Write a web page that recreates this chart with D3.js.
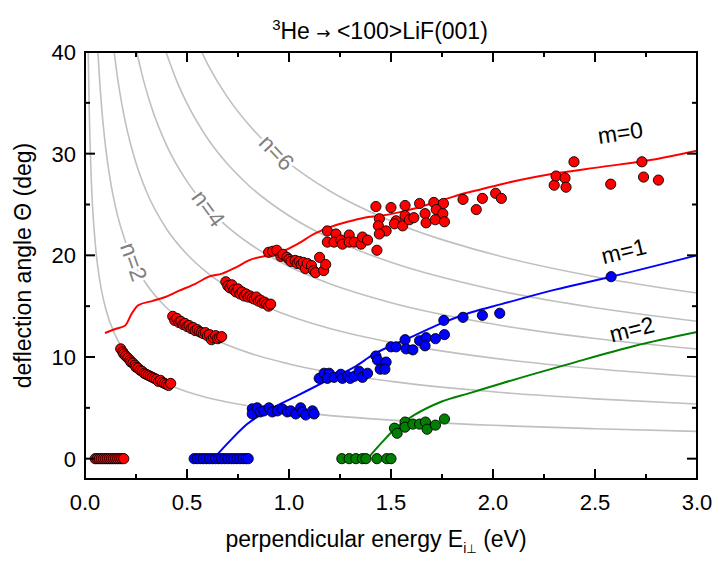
<!DOCTYPE html>
<html><head><meta charset="utf-8">
<script src="https://cdn.jsdelivr.net/npm/d3@7"></script>
<style>
body{margin:0;background:#fff;}
text{font-family:"Liberation Sans",Arial,sans-serif;}
</style></head>
<body><svg id="chart" width="719" height="561"></svg>
<script>
// ---------- data ----------
const xTickValues = [0, 0.5, 1.0, 1.5, 2.0, 2.5, 3.0];
const xTickLabels = ["0.0", "0.5", "1.0", "1.5", "2.0", "2.5", "3.0"];
const yTickValues = [0, 10, 20, 30, 40];
const yTickLabels = ["0", "10", "20", "30", "40"];

// grey diffraction-order curves n = 1..6  [E, theta]
const curveN1 = [[0.0159,40],[0.02,34.94],[0.03,27.88],[0.05,21.24],[0.07,17.82],[0.1,14.84],[0.15,12.07],[0.2,10.43],[0.3,8.50],[0.4,7.36],[0.5,6.58],[0.6,6.00],[0.8,5.20],[1.0,4.65],[1.5,3.79],[2.0,3.28],[2.5,2.94],[3.0,2.68]];
const curveN2 = [[0.0635,40],[0.07,37.75],[0.08,34.94],[0.1,30.81],[0.125,27.27],[0.15,24.72],[0.2,21.24],[0.25,18.90],[0.3,17.20],[0.4,14.84],[0.5,13.24],[0.6,12.07],[0.8,10.43],[1.0,9.32],[1.5,7.60],[2.0,6.58],[2.5,5.88],[3.0,5.37]];
const curveN3 = [[0.1429,40],[0.16,37.40],[0.18,34.94],[0.2,32.91],[0.25,29.08],[0.3,26.33],[0.4,22.59],[0.5,20.10],[0.6,18.28],[0.7,16.88],[0.8,15.76],[1.0,14.06],[1.2,12.81],[1.5,11.44],[2.0,9.89],[2.5,8.84],[3.0,8.06]];
const curveN4 = [[0.254,40],[0.28,37.75],[0.32,34.94],[0.4,30.81],[0.5,27.27],[0.6,24.72],[0.7,22.78],[0.8,21.24],[1.0,18.90],[1.2,17.20],[1.5,15.34],[2.0,13.24],[2.5,11.82],[3.0,10.78]];
const curveN5 = [[0.397,40],[0.45,37.13],[0.5,34.94],[0.6,31.52],[0.7,28.95],[0.8,26.92],[1.0,23.89],[1.2,21.69],[1.5,19.31],[2.0,16.64],[2.5,14.84],[3.0,13.52]];
const curveN6 = [[0.5717,40],[0.6,38.86],[0.7,35.51],[0.8,32.91],[0.9,30.81],[1.0,29.08],[1.2,26.33],[1.5,23.38],[2.0,20.10],[2.5,17.90],[3.0,16.29]];
const greyCurves = [curveN1, curveN2, curveN3, curveN4, curveN5, curveN6];
const curveLabels = [{n:2, text:"n=2", E:0.24}, {n:4, text:"n=4", E:0.605}, {n:6, text:"n=6", E:0.94}];

// calculated lines m = 0, 1, 2
const lineM0 = [[0.098,12.35],[0.156,12.8],[0.197,13.1],[0.23,14.3],[0.262,15.1],[0.328,15.5],[0.394,15.9],[0.459,16.5],[0.541,17.2],[0.607,17.9],[0.672,18.2],[0.738,18.8],[0.803,19.5],[0.959,20.3],[1.041,21.1],[1.123,22.1],[1.205,22.8],[1.287,23.3],[1.369,23.7],[1.451,23.9],[1.533,24.2],[1.615,24.6],[1.697,25.1],[1.779,25.6],[1.861,26.1],[1.943,26.5],[2.041,27.0],[2.287,28.0],[2.533,28.7],[2.779,29.4],[3.0,30.3]];
const lineM1 = [[0.63,0],[0.648,0.4],[0.713,1.8],[0.795,3.4],[0.893,4.7],[1.041,6.2],[1.188,7.7],[1.32,9.0],[1.418,10.3],[1.50,11.1],[1.582,11.8],[1.746,13.3],[1.894,14.4],[2.041,15.2],[2.3,16.6],[2.58,17.9],[3.0,20.0]];
const lineM2 = [[1.385,0],[1.451,1.5],[1.517,2.9],[1.615,4.3],[1.746,5.6],[1.894,6.5],[2.041,7.4],[2.37,9.3],[2.697,11.1],[3.0,12.45]];
const lineLabels = [{text:"m=0", E:2.63, dTheta:2.3}, {text:"m=1", E:2.65, dTheta:1.4}, {text:"m=2", E:2.69, dTheta:0.9}];

// measured points
const redPoints = [
[0.05,0],[0.06,0],[0.07,0],[0.08,0],[0.09,0],[0.10,0],[0.11,0],[0.12,0],[0.13,0],[0.14,0],[0.15,0],[0.16,0],[0.17,0],[0.18,0],[0.19,0],
[0.175,10.8],[0.185,10.5],[0.19,10.3],[0.20,10.1],[0.21,9.9],[0.22,9.7],[0.225,9.5],[0.235,9.4],[0.245,9.2],[0.25,9.0],[0.26,8.9],[0.27,8.7],[0.28,8.6],[0.29,8.4],[0.30,8.3],[0.31,8.2],[0.32,8.1],[0.33,8.0],[0.34,7.9],[0.35,7.8],[0.36,7.6],[0.37,7.7],[0.38,7.5],[0.39,7.4],[0.40,7.3],[0.41,7.2],[0.42,7.4],
[0.43,14.0],[0.44,13.6],[0.45,13.8],[0.46,13.4],[0.47,13.5],[0.48,13.2],[0.49,13.3],[0.50,13.0],[0.51,13.1],[0.52,12.8],[0.53,12.9],[0.54,12.6],[0.55,12.7],[0.56,12.5],[0.57,12.4],[0.58,12.3],[0.59,12.4],[0.60,12.1],[0.61,12.2],[0.62,11.7],[0.63,11.9],[0.64,12.1],[0.65,11.8],[0.66,11.9],[0.67,12.0],
[0.69,17.4],[0.70,17.0],[0.71,16.8],[0.72,17.1],[0.73,16.6],[0.74,16.4],[0.75,16.7],[0.76,16.2],[0.77,16.4],[0.78,16.0],[0.79,16.2],[0.80,15.9],[0.81,16.0],[0.82,15.8],[0.83,15.7],[0.84,15.9],[0.85,15.5],[0.86,15.6],[0.87,15.3],[0.88,15.4],[0.89,15.2],[0.90,15.0],[0.91,15.2],
[0.90,20.3],[0.92,20.4],[0.94,20.5],[0.96,19.9],[0.97,20.1],[0.99,19.8],[1.00,19.6],[1.01,19.4],[1.03,19.5],[1.04,19.2],[1.05,19.4],[1.06,19.1],[1.07,19.3],[1.08,18.7],[1.09,19.2],[1.11,19.0],[1.12,18.5],[1.13,18.3],[1.15,19.8],[1.17,18.5],[1.18,19.1],
[1.188,22.4],[1.23,22.1],[1.188,21.3],[1.221,21.3],[1.254,21.5],[1.262,21.1],[1.295,22.0],[1.295,21.3],[1.32,21.3],[1.353,21.1],[1.36,21.8],[1.385,21.5],[1.431,20.5],
[1.426,24.8],[1.50,24.7],[1.569,24.9],[1.64,25.1],[1.71,25.2],[1.757,25.1],[1.443,23.6],[1.438,22.9],[1.476,22.4],[1.443,22.1],[1.525,23.4],[1.517,23.1],[1.557,22.9],[1.569,23.9],[1.59,23.5],[1.612,23.7],[1.667,24.1],[1.672,23.2],[1.722,24.5],[1.754,24.1],[1.717,23.5],[1.762,23.3],
[1.853,25.5],[1.918,24.5],[1.948,25.6],[2.013,26.1],[2.041,25.6],[2.30,26.9],[2.309,27.8],[2.353,27.6],[2.358,26.7],[2.397,29.2],[2.577,27.0],[2.73,29.2],[2.738,27.7],[2.811,27.4]
];
const bluePoints = [
[0.535,0],[0.55,0],[0.565,0],[0.58,0],[0.595,0],[0.61,0],[0.625,0],[0.64,0],[0.655,0],[0.67,0],[0.685,0],[0.70,0],[0.715,0],[0.73,0],[0.745,0],[0.76,0],[0.775,0],[0.79,0],[0.80,0],
[0.82,4.9],[0.82,4.4],[0.844,5.0],[0.86,4.6],[0.877,4.7],[0.902,5.0],[0.918,4.6],[0.943,4.7],[0.967,4.9],[0.992,4.6],[1.008,4.7],[1.033,4.4],[1.057,5.0],[1.066,4.6],[1.082,4.3],[1.115,4.7],[1.123,4.4],
[1.148,7.9],[1.172,8.4],[1.197,8.4],[1.188,7.9],[1.221,8.0],[1.254,8.3],[1.262,7.9],[1.287,8.1],[1.30,7.9],[1.32,8.1],[1.344,8.6],[1.36,8.0],[1.385,8.4],
[1.426,10.1],[1.434,9.7],[1.476,9.5],[1.447,8.8],[1.47,8.8],[1.50,11.0],[1.525,11.0],[1.569,11.7],[1.574,10.8],[1.607,10.7],[1.64,11.6],[1.672,11.9],[1.667,11.1],[1.718,11.8],[1.762,12.2],[1.759,13.6],[1.853,13.9],[1.948,14.1],[2.033,14.3],[2.579,17.9]
];
const greenPoints = [
[1.259,0],[1.295,0],[1.328,0],[1.36,0],[1.377,0],[1.431,0],[1.479,0],[1.50,0],
[1.517,3.0],[1.53,2.5],[1.569,3.6],[1.569,3.1],[1.607,3.4],[1.64,3.4],[1.669,3.6],[1.677,2.9],[1.718,3.3],[1.762,3.9]
];

// ---------- drawing ----------
const svg = d3.select("#chart");
const L = 85, R = 697, T = 52, B = 479;
const x = d3.scaleLinear().domain([0, 3]).range([L, R]);
const y = d3.scaleLinear().domain([-2, 40]).range([B, T]);

svg.append("defs").append("clipPath").attr("id", "clip")
  .append("rect").attr("x", L).attr("y", T).attr("width", R - L).attr("height", B - T);
const plot = svg.append("g").attr("clip-path", "url(#clip)");

const smooth = d3.line().x(d => x(d[0])).y(d => y(d[1])).curve(d3.curveMonotoneX);

plot.selectAll("path.grey").data(greyCurves).join("path")
  .attr("class", "grey").attr("d", smooth)
  .attr("fill", "none").attr("stroke", "#c0c0c0").attr("stroke-width", 1.6);

function interp(pts, E) {
  for (let i = 0; i < pts.length - 1; i++) {
    if (E >= pts[i][0] && E <= pts[i + 1][0]) {
      const t = (E - pts[i][0]) / (pts[i + 1][0] - pts[i][0]);
      return pts[i][1] + t * (pts[i + 1][1] - pts[i][1]);
    }
  }
  return pts[pts.length - 1][1];
}
function angleAt(pts, E, h) {
  const x1 = x(E - h), y1 = y(interp(pts, E - h));
  const x2 = x(E + h), y2 = y(interp(pts, E + h));
  return Math.atan2(y2 - y1, x2 - x1) * 180 / Math.PI;
}

curveLabels.forEach(c => {
  const pts = greyCurves[c.n - 1];
  const px = x(c.E), py = y(interp(pts, c.E));
  const a = angleAt(pts, c.E, 0.04) + 6;
  svg.append("text").attr("transform", `translate(${px},${py}) rotate(${a})`)
    .attr("text-anchor", "middle").attr("dy", "0.35em")
    .attr("font-size", 23).attr("fill", "#808080")
    .attr("stroke", "#fff").attr("stroke-width", 5).attr("paint-order", "stroke")
    .text(c.text);
});

const lines = [[lineM0, "#ff0000"], [lineM1, "#0000ff"], [lineM2, "#008000"]];
lines.forEach(([pts, col]) => {
  plot.append("path").datum(pts).attr("d", smooth)
    .attr("fill", "none").attr("stroke", col).attr("stroke-width", 2);
});

const sets = [[redPoints, "#ff0000"], [bluePoints, "#0000ff"], [greenPoints, "#008000"]];
sets.forEach(([pts, col]) => {
  plot.append("g").selectAll("circle").data(pts).join("circle")
    .attr("cx", d => x(d[0])).attr("cy", d => y(d[1])).attr("r", 5.1)
    .attr("fill", col).attr("stroke", "#000").attr("stroke-width", 0.9);
});

const lineSets = [lineM0, lineM1, lineM2];
lineLabels.forEach((l, i) => {
  const pts = lineSets[i];
  const a = angleAt(pts, l.E, 0.2);
  const px = x(l.E), py = y(interp(pts, l.E) + l.dTheta);
  svg.append("text").attr("transform", `translate(${px},${py}) rotate(${a})`)
    .attr("text-anchor", "middle").attr("font-size", 23).attr("fill", "#000")
    .text(l.text);
});

// frame
svg.append("rect").attr("x", L).attr("y", T).attr("width", R - L).attr("height", B - T)
  .attr("fill", "none").attr("stroke", "#000").attr("stroke-width", 2);

// ticks (inside, all four sides)
const xMinor = [0.25, 0.75, 1.25, 1.75, 2.25, 2.75];
const yMinor = [5, 15, 25, 35];
const tk = svg.append("g").attr("stroke", "#000").attr("stroke-width", 2);
xTickValues.forEach(v => {
  tk.append("line").attr("x1", x(v)).attr("x2", x(v)).attr("y1", B).attr("y2", B - 10);
  tk.append("line").attr("x1", x(v)).attr("x2", x(v)).attr("y1", T).attr("y2", T + 10);
});
xMinor.forEach(v => {
  tk.append("line").attr("x1", x(v)).attr("x2", x(v)).attr("y1", B).attr("y2", B - 5);
  tk.append("line").attr("x1", x(v)).attr("x2", x(v)).attr("y1", T).attr("y2", T + 5);
});
yTickValues.forEach(v => {
  tk.append("line").attr("x1", L).attr("x2", L + 10).attr("y1", y(v)).attr("y2", y(v));
  tk.append("line").attr("x1", R).attr("x2", R - 10).attr("y1", y(v)).attr("y2", y(v));
});
yMinor.forEach(v => {
  tk.append("line").attr("x1", L).attr("x2", L + 5).attr("y1", y(v)).attr("y2", y(v));
  tk.append("line").attr("x1", R).attr("x2", R - 5).attr("y1", y(v)).attr("y2", y(v));
});

// tick labels
svg.append("g").selectAll("text").data(xTickValues).join("text")
  .attr("x", d => x(d)).attr("y", B + 31).attr("text-anchor", "middle")
  .attr("font-size", 22).text((d, i) => xTickLabels[i]);
svg.append("g").selectAll("text").data(yTickValues).join("text")
  .attr("x", L - 9).attr("y", d => y(d)).attr("dy", "0.36em").attr("text-anchor", "end")
  .attr("font-size", 22).text((d, i) => yTickLabels[i]);

// titles
const title = svg.append("text").attr("x", 380).attr("y", 39).attr("text-anchor", "middle").attr("font-size", 23);
title.append("tspan").attr("font-size", 15).attr("dy", -9).text("3");
title.append("tspan").attr("dy", 9).text("He ");
title.append("tspan").attr("font-family", "DejaVu Sans").attr("font-size", 17).text("→");
title.append("tspan").text(" <100>LiF(001)");

const xt = svg.append("text").attr("x", 376).attr("y", 547).attr("text-anchor", "middle").attr("font-size", 23);
xt.append("tspan").text("perpendicular energy E");
xt.append("tspan").attr("font-size", 14).attr("dy", 6).text("i");
xt.append("tspan").attr("font-family", "DejaVu Sans").attr("font-size", 12).text("⊥");
xt.append("tspan").attr("dy", -6).text(" (eV)");

svg.append("text").attr("transform", `translate(31,${(T + B) / 2}) rotate(-90)`)
  .attr("text-anchor", "middle").attr("font-size", 23).text("deflection angle Θ (deg)");
</script></body></html>
